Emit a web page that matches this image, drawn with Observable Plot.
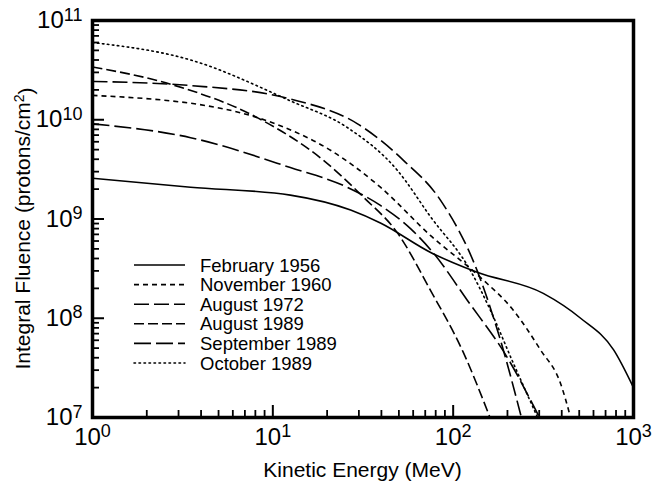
<!DOCTYPE html>
<html><head><meta charset="utf-8">
<script src="https://cdn.jsdelivr.net/npm/d3@7"></script>
<script src="https://cdn.jsdelivr.net/npm/@observablehq/plot@0.6"></script>
<style>
body{margin:0;background:#fff;}
svg{font-family:"Liberation Sans",Arial,Helvetica,sans-serif;}
</style>
</head><body><div id="chart"></div>
<script>
// Series names and legend order
const seriesNames = ["February 1956","November 1960","August 1972","August 1989","September 1989","October 1989"];
const dashes = ["none","5,4","15,5","10,4","17,5","1.5,3.5"];

// Kinetic energy (MeV) and integral fluence (protons/cm^2)
const feb1956E = [1, 3.5, 12.5, 27, 39.5, 75, 136, 316, 509, 776, 1000];
const feb1956F = [2.57e9, 2.09e9, 1.74e9, 1.23e9, 9.1e8, 4.6e8, 2.9e8, 1.78e8, 1.0e8, 4.8e7, 2.0e7];

const nov1960E = [1, 5.3, 11, 21, 39.5, 75, 142, 216, 305, 394, 448];
const nov1960F = [1.76e10, 1.29e10, 8.7e9, 4.9e9, 2.09e9, 6.8e8, 2.57e8, 1.2e8, 4.8e7, 2.2e7, 1.0e7];

const aug1972E = [1, 3.5, 12.5, 29.5, 53, 85, 136, 183, 239];
const aug1972F = [2.43e10, 2.21e10, 1.62e10, 9.1e9, 3.9e9, 1.55e9, 3.0e8, 6.0e7, 1.0e7];

const aug1989E = [1, 2.8, 8.2, 19.1, 31.8, 49.2, 75, 114, 160];
const aug1989F = [3.4e10, 2.24e10, 1.05e10, 3.9e9, 1.66e9, 7.2e8, 1.9e8, 4.5e7, 1.0e7];

const sep1989E = [1, 3.5, 12.5, 26, 39.5, 58, 78, 120, 200, 301];
const sep1989F = [9.1e9, 6.6e9, 3.3e9, 2.08e9, 1.37e9, 8.0e8, 4.5e8, 1.51e8, 4.0e7, 1.0e7];

const oct1989E = [1, 3.5, 12.5, 26, 49, 75, 125, 161, 216, 294];
const oct1989F = [6.0e10, 4.0e10, 1.55e10, 8.3e9, 3.1e9, 1.05e9, 3.0e8, 1.2e8, 3.5e7, 1.0e7];

// Axis ticks
const xMajor = [1, 10, 100, 1000];
const xMinor = [2,3,4,5,6,7,8,9,20,30,40,50,60,70,80,90,200,300,400,500,600,700,800,900];
const yMajor = [1e7, 1e8, 1e9, 1e10, 1e11];
const yMinorMantissas = [2,3,4,5,6,7,8,9];
const yMinorDecades = [1e7, 1e8, 1e9, 1e10];
const yMinor = yMinorDecades.flatMap((d) => yMinorMantissas.map((m) => m * d));
const xTickLabels = ["10^0","10^1","10^2","10^3"];
const yTickLabels = ["10^7","10^8","10^9","10^10","10^11"];

const seriesE = [feb1956E, nov1960E, aug1972E, aug1989E, sep1989E, oct1989E];
const seriesF = [feb1956F, nov1960F, aug1972F, aug1989F, sep1989F, oct1989F];

const W = 668, H = 487, mL = 92, mR = 35, mT = 20, mB = 70;
const fw = W - mL - mR, fh = H - mT - mB;

const lineMarks = seriesNames.map((name, i) => {
  const data = seriesE[i].map((e, j) => ({e, f: seriesF[i][j]}));
  return Plot.line(data, {x: "e", y: "f", curve: "monotone-x", stroke: "black",
    strokeWidth: 1.6, strokeDasharray: dashes[i], strokeLinecap: i === 5 ? "round" : "butt", clip: true});
});

const chart = Plot.plot({
  width: W, height: H,
  marginLeft: mL, marginRight: mR, marginTop: mT, marginBottom: mB,
  x: {type: "log", domain: [1, 1000]},
  y: {type: "log", domain: [1e7, 1e11]},
  style: {background: "white", color: "black", fontFamily: "Liberation Sans, Arial, sans-serif", fontSize: "18px", overflow: "visible"},
  marks: [
    ...lineMarks,
    Plot.ruleX(xMinor, {stroke: "black", strokeWidth: 1.8, insetTop: fh - 7}),
    Plot.ruleX(xMajor, {stroke: "black", strokeWidth: 2, insetTop: fh - 12}),
    Plot.ruleY(yMinor, {stroke: "black", strokeWidth: 1.8, insetRight: fw - 7}),
    Plot.ruleY(yMajor, {stroke: "black", strokeWidth: 2, insetRight: fw - 12}),
    Plot.axisX(xMajor, {tickSize: 0, tickPadding: 10, label: null, fontSize: 24,
      tickFormat: (d) => xTickLabels[xMajor.indexOf(d)]}),
    Plot.axisY(yMajor, {tickSize: 0, tickPadding: 10, label: null, fontSize: 24,
      tickFormat: (d) => yTickLabels[yMajor.indexOf(d)]}),
    Plot.frame({stroke: "black", strokeWidth: 3.5})
  ]
});

// Superscript exponents in tick labels
chart.querySelectorAll('[aria-label$="tick label"] text').forEach((t) => {
  const s = t.textContent;
  if (!s.includes("^")) return;
  const [base, exp] = s.split("^");
  t.textContent = "";
  const ns = "http://www.w3.org/2000/svg";
  const b = document.createElementNS(ns, "tspan"); b.textContent = base; t.appendChild(b);
  const e = document.createElementNS(ns, "tspan"); e.textContent = exp;
  e.setAttribute("dy", "-0.42em"); e.setAttribute("font-size", "18"); t.appendChild(e);
});

const svg = d3.select(chart);

// Axis titles
svg.append("text").attr("x", mL + fw / 2).attr("y", 477).attr("text-anchor", "middle")
  .attr("font-size", 21).attr("fill", "black").text("Kinetic Energy (MeV)");
svg.append("text").attr("transform", `translate(30,${mT + fh / 2 + 10}) rotate(-90)`).attr("text-anchor", "middle")
  .attr("font-size", 21).attr("fill", "black")
  .call((t) => { t.append("tspan").text("Integral Fluence (protons/cm"); t.append("tspan").attr("dy", "-0.42em").attr("font-size", 14).text("2"); t.append("tspan").attr("dy", "0.42em").text(")"); });

// Legend
const lg = svg.append("g").attr("text-anchor", "start");
seriesNames.forEach((name, i) => {
  const y = 265 + i * 19.6;
  lg.append("line").attr("x1", 134).attr("x2", 185).attr("y1", y).attr("y2", y)
    .attr("stroke", "black").attr("stroke-width", 1.6).attr("stroke-dasharray", dashes[i])
    .attr("stroke-linecap", i === 5 ? "round" : "butt");
  lg.append("text").attr("x", 200).attr("y", y).attr("dy", "0.36em").attr("font-size", 18.5)
    .attr("text-anchor", "start").attr("fill", "black").text(name);
});

document.getElementById("chart").appendChild(chart);
</script>
</body></html>
